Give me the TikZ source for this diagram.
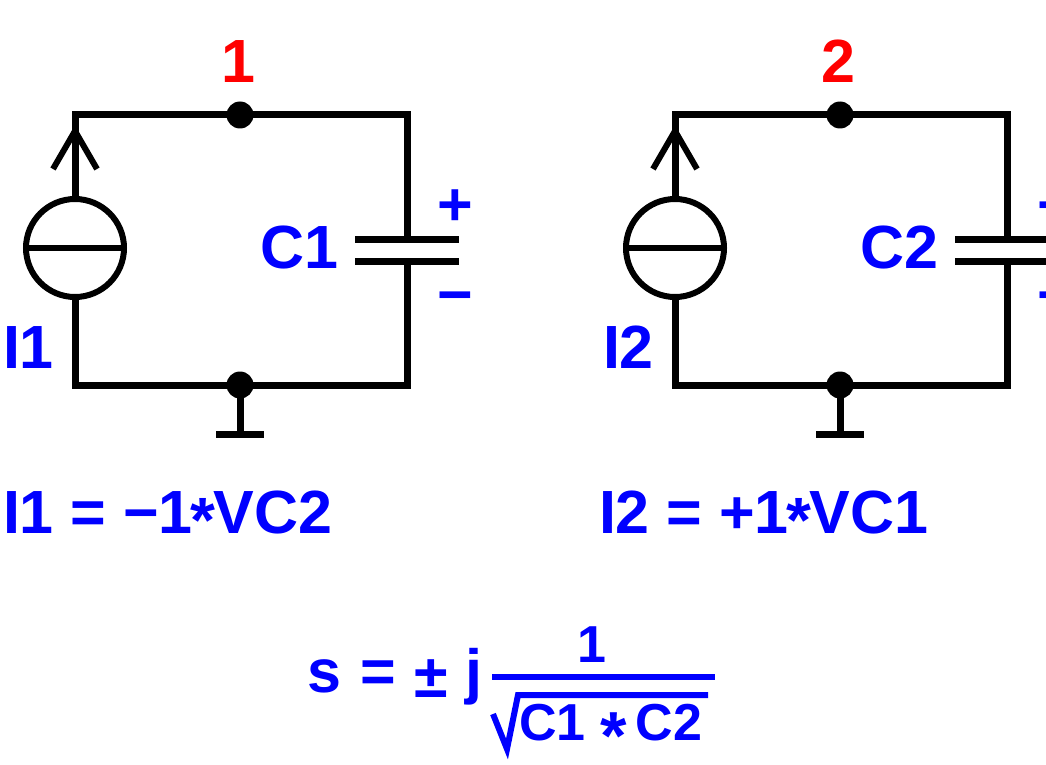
\documentclass[tikz,border=0pt]{standalone}
\usepackage{fontspec}
\setmainfont{Liberation Sans}
\usetikzlibrary{calc}
\definecolor{lblue}{RGB}{0,0,255}
\definecolor{lred}{RGB}{255,0,0}
\newcommand{\midast}[2]{\raisebox{#2}{\fontsize{#1}{#1}\selectfont *}}
\begin{document}
\begin{tikzpicture}[x=1pt,y=-1pt,
  wire/.style={line width=7pt, line join=miter, line cap=butt},
  thin wire/.style={line width=6pt, line join=miter, line cap=butt},
  srcnode/.style={circle, draw, line width=6pt, minimum size=98pt, inner sep=0pt, outer sep=0pt},
  dotnode/.style={circle, fill, minimum size=27pt, inner sep=0pt, outer sep=0pt},
  lbl/.style={text=lblue, font=\fontsize{61}{61}\selectfont\bfseries, inner sep=0pt, outer sep=0pt},
  smalllbl/.style={text=lblue, font=\fontsize{52}{52}\selectfont\bfseries, inner sep=0pt, outer sep=0pt},
  nodelbl/.style={text=lred, font=\fontsize{61}{61}\selectfont\bfseries, inner sep=0pt, outer sep=0pt},
  mathline/.style={draw=lblue, line width=6pt, line join=miter}]
\useasboundingbox (0,0) rectangle (1046,765);
\clip (0,0) rectangle (1046,765);

\foreach \i in {1,2} {
  \begin{scope}[xshift={(\i-1)*600pt}]
    \coordinate (tl\i) at (75,115);
    \coordinate (tr\i) at (407,115);
    \coordinate (bl\i) at (75,385);
    \coordinate (br\i) at (407,385);
    \coordinate (cpt\i) at (407,239);
    \coordinate (cpb\i) at (407,261);
    \coordinate (ar\i) at (75,131);
    \coordinate (g\i) at (240,434);
    \node[srcnode] (src\i) at (75,248) {};
    \node[dotnode] (n\i) at (240,115) {};
    \node[dotnode] (ng\i) at (240,385) {};
    % wires
    \draw[wire] (src\i.north) -- (tl\i) -- (n\i.center) -- (tr\i) -- (cpt\i);
    \draw[wire] (src\i.south) -- (bl\i) -- (ng\i.center) -- (br\i) -- (cpb\i);
    % source bar and arrow
    \draw[thin wire] (src\i.west) -- (src\i.east);
    \draw[thin wire] (ar\i) ++(-22,38) -- (ar\i) -- ++(22,38);
    % capacitor plates
    \draw[wire] (cpt\i) ++(-52,0) -- ++(104,0);
    \draw[wire] (cpb\i) ++(-52,0) -- ++(104,0);
    % ground
    \draw[wire] (ng\i.center) -- (g\i);
    \draw[wire] (g\i) ++(-24,0) -- ++(48,0);
    % labels
    \node[nodelbl, anchor=base] (nl\i) at (238,83) {\i};
    \node[lbl, anchor=base west] (cl\i) at (260,268) {C\i};
    \node[lbl, anchor=base west] (il\i) at (3,368) {I\i};
    \node[lbl, anchor=base] (pl\i) at (455,225) {+};
    \node[lbl, anchor=base] (mi\i) at (455,315) {−};
  \end{scope}
}

% equations
\node[lbl, anchor=base west] (eq1) at (3,533) {I1 = −1\kern-2pt\midast{64}{-9pt}\kern-2pt VC2};
\node[lbl, anchor=base west] (eq2) at (599,533) {I2 = +1\kern-2pt\midast{64}{-9pt}\kern-2pt VC1};

% formula
\node[lbl, anchor=base] (sv) at (324,692) {s};
\node[lbl, anchor=base] (eqs) at (378,692) {=};
\node[lbl, anchor=base] (pm) at (431,697) {±};
\node[lbl, anchor=base] (jj) at (474,692) {j};
\coordinate (fbl) at (492,677);
\coordinate (fbr) at (715,677);
\draw[mathline] (fbl) -- (fbr);
\node[smalllbl, anchor=base] (num) at (592,662) {1};
\coordinate (r1) at (493,714);
\coordinate (r2) at (507,749);
\coordinate (r3) at (518,695);
\coordinate (r4) at (708,695);
\draw[mathline] (r1) -- (r2) -- (r3) -- (r4);
\node[smalllbl, anchor=base west] (den) at (519,740) {C1\hspace{15.5pt}\midast{68}{-19pt}\hspace{8.5pt}C2};
\end{tikzpicture}
\end{document}
